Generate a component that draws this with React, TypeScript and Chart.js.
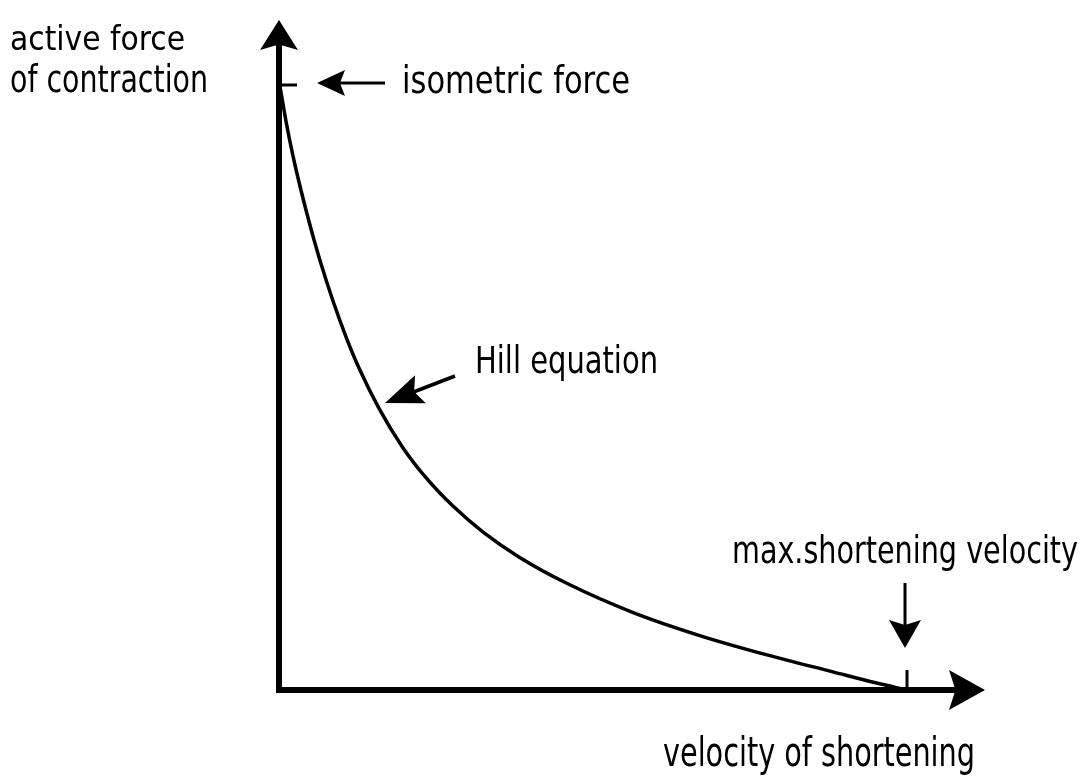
import React, { useEffect, useRef } from "react";
import { Chart, registerables } from "chart.js";

Chart.register(...registerables);

// Hill force–velocity curve (normalised: velocity / v_max, force / F0)
const velocity = [0.002, 0.011, 0.022, 0.035, 0.051, 0.067, 0.086, 0.107, 0.127, 0.159, 0.197, 0.234, 0.277, 0.325, 0.382, 0.459, 0.564, 0.67, 0.777, 0.882, 0.95, 1.0];
const force = [0.995, 0.941, 0.884, 0.826, 0.762, 0.704, 0.643, 0.583, 0.533, 0.466, 0.401, 0.351, 0.304, 0.261, 0.22, 0.176, 0.128, 0.09, 0.058, 0.03, 0.012, 0.0];

const isometricForce = 1;
const maxVelocity = 1;

const yTitleLines = ["active force", "of contraction"];
const xTitle = "velocity of shortening";
const isoLabel = "isometric force";
const hillLabel = "Hill equation";
const vmaxLabel = "max.shortening velocity";

const FONT = '"DejaVu Sans Condensed", "Liberation Sans Narrow", "DejaVu Sans", sans-serif';

function head(ctx: CanvasRenderingContext2D, tx: number, ty: number, ang: number, len: number, hw: number) {
  const c = Math.cos(ang);
  const s = Math.sin(ang);
  const bx = tx - c * len;
  const by = ty - s * len;
  const nx = tx - c * len * 0.82;
  const ny = ty - s * len * 0.82;
  ctx.beginPath();
  ctx.moveTo(tx, ty);
  ctx.lineTo(bx - s * hw, by + c * hw);
  ctx.lineTo(nx, ny);
  ctx.lineTo(bx + s * hw, by - c * hw);
  ctx.closePath();
  ctx.fill();
}

function text(ctx: CanvasRenderingContext2D, str: string, x: number, baseline: number, width: number, size: number) {
  ctx.font = `${size}px ${FONT}`;
  const w = ctx.measureText(str).width;
  ctx.save();
  ctx.translate(x, baseline);
  ctx.scale(width / w, 1);
  ctx.textAlign = "left";
  ctx.textBaseline = "alphabetic";
  ctx.fillText(str, 0, 0);
  ctx.restore();
}

const annotations = {
  id: "annotations",
  afterDraw(chart: any) {
    const ctx: CanvasRenderingContext2D = chart.ctx;
    const xs = chart.scales.x;
    const ys = chart.scales.y;
    const x0 = xs.getPixelForValue(0);
    const y0 = ys.getPixelForValue(0);
    const top = chart.chartArea.top;
    const right = chart.chartArea.right;
    const yIso = ys.getPixelForValue(isometricForce);
    const xMax = xs.getPixelForValue(maxVelocity);

    ctx.save();
    ctx.fillStyle = "#000";
    ctx.strokeStyle = "#000";
    ctx.lineCap = "butt";

    // axes
    ctx.lineWidth = 6;
    ctx.beginPath();
    ctx.moveTo(x0, y0 + 3);
    ctx.lineTo(x0, top + 22);
    ctx.stroke();
    ctx.beginPath();
    ctx.moveTo(x0 - 3, y0);
    ctx.lineTo(right - 22, y0);
    ctx.stroke();
    head(ctx, x0, top, -Math.PI / 2, 30, 19);
    head(ctx, right, y0, 0, 36, 20);

    // isometric force tick + arrow
    ctx.lineWidth = 3;
    ctx.beginPath();
    ctx.moveTo(x0 - 2, yIso);
    ctx.lineTo(x0 + 18, yIso);
    ctx.stroke();
    ctx.beginPath();
    ctx.moveTo(385, yIso - 2);
    ctx.lineTo(335, yIso - 2);
    ctx.stroke();
    head(ctx, 317, yIso - 2, Math.PI, 28, 13);

    // max velocity tick + arrow
    ctx.beginPath();
    ctx.moveTo(xMax, y0);
    ctx.lineTo(xMax, y0 - 20);
    ctx.stroke();
    ctx.beginPath();
    ctx.moveTo(xMax - 2, 583);
    ctx.lineTo(xMax - 2, 628);
    ctx.stroke();
    head(ctx, xMax - 2, 648, Math.PI / 2, 28, 16);

    // Hill equation arrow
    const tailX = 455, tailY = 376, tipX = 385, tipY = 403;
    const ang = Math.atan2(tipY - tailY, tipX - tailX);
    ctx.lineWidth = 3.5;
    ctx.beginPath();
    ctx.moveTo(tailX, tailY);
    ctx.lineTo(tipX - Math.cos(ang) * 25, tipY - Math.sin(ang) * 25);
    ctx.stroke();
    head(ctx, tipX, tipY, ang, 38, 15);

    // texts
    text(ctx, yTitleLines[0], 10, 50, 175, 34);
    text(ctx, yTitleLines[1], 10, 92, 198, 37);
    text(ctx, isoLabel, 402, 93, 228, 37);
    text(ctx, hillLabel, 475, 373, 183, 37);
    text(ctx, vmaxLabel, 732, 563, 346, 37);
    text(ctx, xTitle, 663, 766, 312, 40);

    ctx.restore();
  },
};

export default function App() {
  const ref = useRef<HTMLCanvasElement | null>(null);

  useEffect(() => {
    document.body.style.margin = "0";
    const canvas = ref.current;
    if (!canvas) return;
    const xRight = 985, xLeft = 279, xOne = 907;
    const yTop = 20, yBottom = 690, yOne = 85;
    const xMaxVal = (xRight - xLeft) / (xOne - xLeft);
    const yMaxVal = (yBottom - yTop) / (yBottom - yOne);
    const chart = new Chart(canvas, {
      type: "scatter",
      data: {
        datasets: [
          {
            data: velocity.map((v, i) => ({ x: v, y: force[i] })),
            showLine: true,
            borderColor: "#000",
            borderWidth: 3.5,
            pointRadius: 0,
            cubicInterpolationMode: "monotone",
            fill: false,
          } as any,
        ],
      },
      options: {
        responsive: false,
        animation: false,
        devicePixelRatio: 1,
        layout: { padding: { left: xLeft, right: 1090 - xRight, top: yTop, bottom: 780 - yBottom } },
        plugins: { legend: { display: false }, tooltip: { enabled: false } },
        scales: {
          x: { type: "linear", min: 0, max: xMaxVal, display: false },
          y: { type: "linear", min: 0, max: yMaxVal, display: false },
        },
      },
      plugins: [annotations],
    });
    return () => chart.destroy();
  }, []);

  return (
    <div style={{ position: "fixed", left: 0, top: 0, width: 1090, height: 780, background: "#fff" }}>
      <canvas ref={ref} width={1090} height={780} style={{ display: "block", width: 1090, height: 780 }} />
    </div>
  );
}
